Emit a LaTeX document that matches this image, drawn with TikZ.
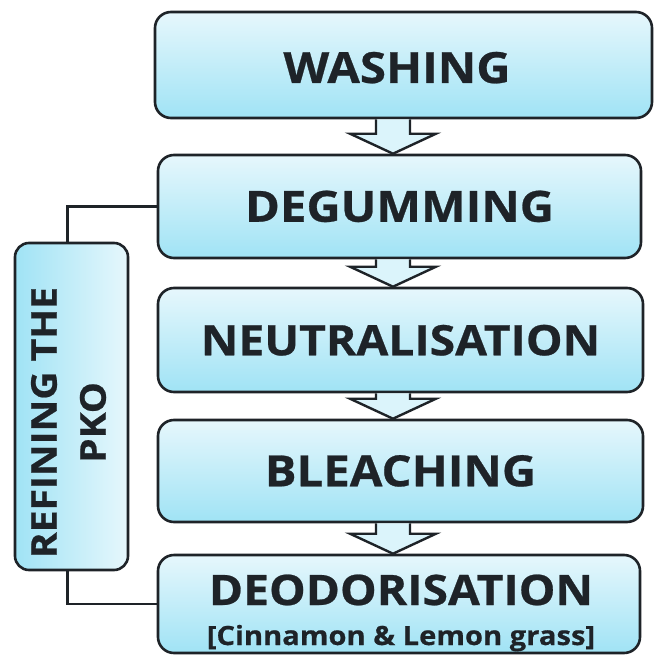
\documentclass[tikz,border=0pt]{standalone}
\usepackage{fontspec}
\setmainfont{Open Sans}[BoldFeatures={FakeStretch=1.1,FakeBold=0.6}]
\usetikzlibrary{calc}
\definecolor{boxtop}{RGB}{230,247,252}
\definecolor{boxbot}{RGB}{160,227,245}
\definecolor{edge}{RGB}{30,35,40}
\tikzset{
  stage/.style={draw=edge, line width=2.6pt, rounded corners=16pt, top color=boxtop, bottom color=boxbot,
     font=\bfseries\fontsize{43}{46}\selectfont, text=edge, align=center, inner sep=0pt,
     text height=30.5pt, text depth=0pt},
  side/.style={draw=edge, line width=2.6pt, rounded corners=14pt, left color=boxbot, right color=boxtop,
     text=edge, align=center, inner sep=0pt},
  label text/.style={text=edge, inner sep=0pt, font=\bfseries},
  link/.style={draw=edge, line width=2.4pt},
  arrowfill/.style={fill=boxtop!85!boxbot},
  arrowline/.style={draw=edge, line width=2.4pt, line join=miter}
}
\newcommand{\blockarr}[2]{%
  \fill[arrowfill] let \p1=(#1.south), \p2=(#2.north) in
    ({393pt-17pt},\y1) -- ({393pt-17pt},{\y2+20pt}) -- ({393pt-43pt},{\y2+20pt}) -- (393pt,\y2)
    -- ({393pt+43pt},{\y2+20pt}) -- ({393pt+17pt},{\y2+20pt}) -- ({393pt+17pt},\y1) -- cycle;
  \draw[arrowline] let \p1=(#1.south), \p2=(#2.north) in
    ({393pt-17pt},\y1) -- ({393pt-17pt},{\y2+20pt}) -- ({393pt-43pt},{\y2+20pt}) -- (393pt,\y2)
    -- ({393pt+43pt},{\y2+20pt}) -- ({393pt+17pt},{\y2+20pt}) -- ({393pt+17pt},\y1);
}
\begin{document}
\begin{tikzpicture}[x=1pt,y=-1pt]
\useasboundingbox[fill=white] (0,0) rectangle (654,658);
\node[stage, minimum width=497pt, minimum height=106pt] (wash) at (403.5,65) {};
\node[label text, font=\bfseries\fontsize{43}{46}\selectfont, anchor=base] (washt) at (397,83) {WASHING};
\node[stage, minimum width=483pt, minimum height=103pt] (degum) at (399.5,206.5) {DEGUMMING};
\node[stage, minimum width=485pt, minimum height=104pt, font=\bfseries\fontsize{42}{46}\selectfont] (neut) at (400.5,340) {NEUTRALISATION};
\node[stage, minimum width=485pt, minimum height=102pt] (bleach) at (400.5,471) {BLEACHING};
\node[stage, minimum width=482pt, minimum height=98pt] (deo) at (399,604) {};
\node[label text, font=\bfseries\fontsize{42}{46}\selectfont, anchor=base] (deot) at (401,605) {DEODORISATION};
\node[label text, font=\bfseries\fontsize{26.5}{30}\selectfont, anchor=base] (deosub) at (401,645) {[Cinnamon \& Lemon grass]};
\node[side, minimum width=113pt, minimum height=327pt] (refine) at (71.5,406.5) {};
\node[rotate=90, font=\bfseries\fontsize{35.5}{49}\selectfont, text=edge, align=center, inner sep=0pt] (refinetext) at ([yshift=-16pt,xshift=-3pt]refine.center) {REFINING THE\\PKO};
\blockarr{wash}{degum}
\blockarr{degum}{neut}
\blockarr{neut}{bleach}
\blockarr{bleach}{deo}
\draw[link] (degum.west) -| ([xshift=-4pt]refine.north);
\draw[link] (deo.west) -| ([xshift=-4pt]refine.south);
\end{tikzpicture}
\end{document}
